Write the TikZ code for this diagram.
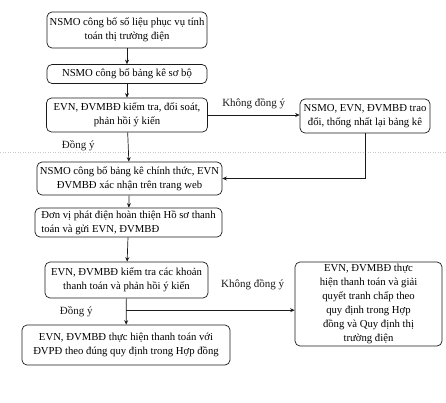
\documentclass[tikz,border=0pt]{standalone}
\usepackage{fontspec}
\setmainfont{Liberation Serif}
\usetikzlibrary{arrows.meta,positioning,calc}
\usepackage{xcolor}
\definecolor{Ink}{HTML}{1A1A1A}
\definecolor{Scan}{HTML}{C8C8C8}
\tikzset{
  flowbox/.style={draw=Ink,line width=0.7pt,rounded corners=5pt,inner sep=1pt,
    align=center,font=\fontsize{10.7}{14}\selectfont},
  flowarr/.style={draw=Ink,line width=0.7pt,-{Stealth[length=4.5pt,width=4pt]}},
  flowlbl/.style={font=\fontsize{11}{13}\selectfont,text=Ink}
}

\begin{document}
\begin{tikzpicture}[x=1pt,y=-1pt]
    \useasboundingbox (0,0) rectangle (446,402);
    % page fold of the scan
    \draw[Scan,dotted,line width=0.5pt] (0,152) -- (446,152);
    % main column
    \node[flowbox,minimum width=160,minimum height=36] (pub) at (127,30)
      {NSMO công bố số liệu phục vụ tính\\toán thị trường điện};
    \node[flowbox,minimum width=160,minimum height=19] (draft) at (127,74)
      {NSMO công bố bảng kê sơ bộ};
    \node[flowbox,minimum width=161,minimum height=34] (check) at (127,115)
      {EVN, ĐVMBĐ kiểm tra, đối soát,\\phản hồi ý kiến};
    \node[flowbox,minimum width=130,minimum height=34] (agree) at (365,116)
      {NSMO, EVN, ĐVMBĐ trao\\đổi, thống nhất lại bảng kê};
    \node[flowbox,minimum width=185,minimum height=33] (official) at (129.5,178.5)
      {NSMO công bố bảng kê chính thức, EVN\\ĐVMBĐ xác nhận trên trang web};
    \node[flowbox,minimum width=187,minimum height=29,align=left] (file) at (128.5,222.5)
      {Đơn vị phát điện hoàn thiện Hồ sơ thanh\\ toán và gửi EVN, ĐVMBĐ};
    \node[flowbox,minimum width=163,minimum height=36] (review) at (126.5,280)
      {EVN, ĐVMBĐ kiểm tra các khoản\\thanh toán và phản hồi ý kiến};
    \node[flowbox,minimum width=208,minimum height=40] (pay) at (126,345)
      {EVN, ĐVMBĐ thực hiện thanh toán với\\ĐVPĐ theo đúng quy định trong Hợp đồng};
    \node[flowbox,minimum width=147,minimum height=84] (dispute) at (368.5,304)
      {EVN, ĐVMBĐ thực\\hiện thanh toán và giải\\quyết tranh chấp theo\\quy định trong Hợp\\đồng và Quy định thị\\trường điện};
    % connectors
    \draw[flowarr] (pub) -- (draft);
    \draw[flowarr] (draft) -- (check);
    \draw[flowarr] (check.east) -- (check.east -| agree.west)
      node[flowlbl,midway,above=2pt] {Không đồng ý};
    \draw[flowarr] (check) -- (official) node[flowlbl,pos=0.45,left=30pt] {Đồng ý};
    \draw[flowarr] (agree.south) |- (official.east);
    \draw[flowarr] (official) -- (file);
    \draw[flowarr] (file) -- (review);
    \coordinate (split) at ($(review.south)!0.45!(pay.north)$);
    \draw[flowarr] (review) -- (pay) node[flowlbl,pos=0.5,left=30pt] {Đồng ý};
    \draw[flowarr] (split) -- (split -| dispute.west)
      node[flowlbl,pos=0.75,above=17pt] {Không đồng ý};
  \end{tikzpicture}
\end{document}
